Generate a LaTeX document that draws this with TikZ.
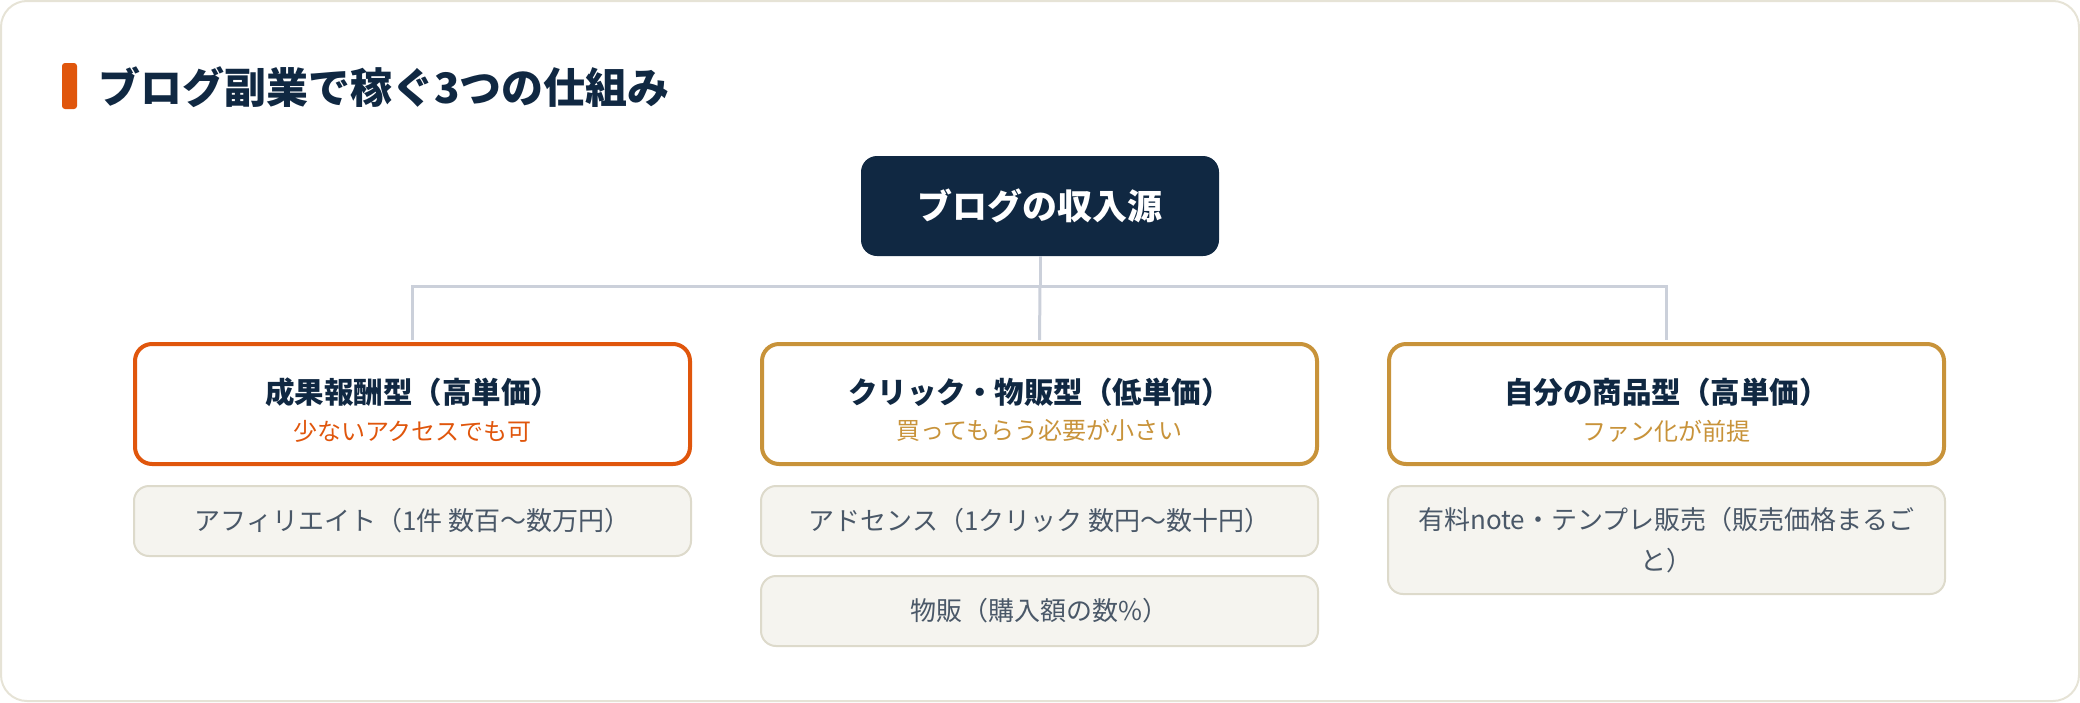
\documentclass[tikz,border=0pt]{standalone}
\usepackage{fontspec}
\setmainfont{Noto Sans CJK JP}
\usepackage{tikz}
\usetikzlibrary{positioning}
\definecolor{Navy}{RGB}{16,40,66}
\definecolor{Rust}{RGB}{224,86,12}
\definecolor{Gold}{RGB}{200,147,58}
\definecolor{Conn}{RGB}{203,208,218}
\definecolor{ItemFill}{RGB}{245,244,239}
\definecolor{ItemLine}{RGB}{221,218,203}
\definecolor{ItemText}{RGB}{74,88,104}
\definecolor{FrameLine}{RGB}{230,227,214}

\begin{document}
\begin{tikzpicture}[x=1pt,y=-1pt,
	root/.style={fill=Navy, text=white, rounded corners=16, minimum width=358, minimum height=100, inner sep=0, font=\bfseries\fontsize{35}{42}\selectfont},
	card/.style={draw=#1, fill=white, line width=4, rounded corners=17, minimum width=555, minimum height=120, inner sep=0},
	cardtext/.style={inner sep=0, align=center, text=Navy, font=\fontsize{24}{36.5}\selectfont},
	item/.style={draw=ItemLine, fill=ItemFill, line width=2, rounded corners=15, minimum width=557, minimum height=70, inner sep=0, align=center, text=ItemText, font=\fontsize{26}{41}\selectfont},
	conn/.style={draw=Conn, line width=3}]
		\useasboundingbox (0,0) rectangle (2080,702);
		\draw [FrameLine, line width=2, rounded corners=26] (1,1) rectangle (2079,701);
		
		% title
		\fill [Rust, rounded corners=3] (62,63) rectangle (77,109);
		\node [anchor=west, inner sep=0, text=Navy, font=\bfseries\fontsize{42}{50}\selectfont] (ttl) at (98,87) {ブログ副業で稼ぐ3つの仕組み};
		
		\node [root] (src) at (1040,206) {ブログの収入源};
		\coordinate (hub) at (1040,286);
		
		\node [card=Rust] (cA) at (412.5,404) {};
		\node [card=Gold] (cB) at (1039.5,404) {};
		\node [card=Gold] (cC) at (1666.5,404) {};
		\node [cardtext] (tA) at ([yshift=-6pt]cA.center) {{\bfseries\fontsize{29.5}{36.5}\selectfont 成果報酬型（高単価）}\\{\color{Rust}少ないアクセスでも可}};
		\node [cardtext] (tB) at ([yshift=-6pt]cB.center) {{\bfseries\fontsize{29.5}{36.5}\selectfont クリック・物販型（低単価）}\\{\color{Gold}買ってもらう必要が小さい}};
		\node [cardtext] (tC) at ([yshift=-6pt]cC.center) {{\bfseries\fontsize{29.5}{36.5}\selectfont 自分の商品型（高単価）}\\{\color{Gold}ファン化が前提}};
		
		\node [item, below=19pt of cA] (iA) {アフィリエイト（1件 数百〜数万円）};
		\node [item, below=19pt of cB] (iB) {アドセンス（1クリック 数円〜数十円）};
		\node [item, below=18pt of iB] (iB2) {物販（購入額の数\%）};
		\node [item, below=19pt of cC, minimum height=108] (iC) {有料note・テンプレ販売（販売価格まるご\\と）};
		
		\draw [conn] (src) -- (hub);
		\draw [conn, shorten <=2] (cA.north) |- (hub);
		\draw [conn, shorten >=2] (hub) -- (cB.north);
		\draw [conn, shorten >=2] (hub) -| (cC.north);
\end{tikzpicture}
\end{document}
